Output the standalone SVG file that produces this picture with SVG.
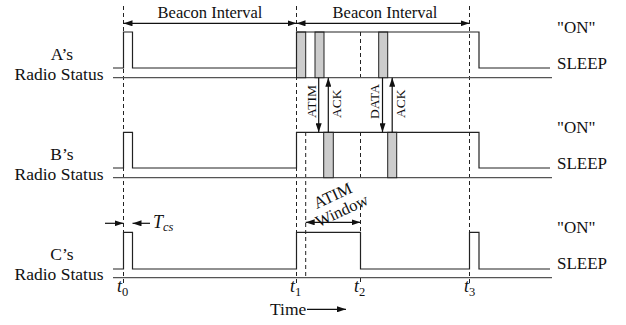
<svg xmlns="http://www.w3.org/2000/svg" width="626" height="325" viewBox="0 0 626 325">
<defs>
<marker id="ah" viewBox="0 0 9 6" markerWidth="9" markerHeight="6" refX="9" refY="3" orient="auto-start-reverse" markerUnits="userSpaceOnUse">
<path d="M0,0 L9,3 L0,6 z" fill="#111"/>
</marker>
<style>
.t{font-family:"Liberation Serif","Times New Roman",serif;font-size:17px;fill:#111}
.tr{font-family:"Liberation Serif","Times New Roman",serif;font-size:17.5px;fill:#111}
.tb{font-family:"Liberation Serif","Times New Roman",serif;font-size:16.5px;fill:#111}
.ts{font-family:"Liberation Serif","Times New Roman",serif;font-size:13.5px;fill:#111}
.m{font-family:"Liberation Serif","Times New Roman",serif;font-style:italic;font-size:18px;fill:#111}
.sub{font-size:12.5px}
.sig{fill:none;stroke:#222;stroke-width:1.2}
.base{fill:none;stroke:#555;stroke-width:1.3}
.dash{fill:none;stroke:#222;stroke-width:1;stroke-dasharray:4,3}
.blk{fill:#ccc;stroke:#222;stroke-width:1}
.arr{fill:none;stroke:#111;stroke-width:1.2}
</style>
</defs>
<rect width="626" height="325" fill="#fff"/>

<g id="gridlines">
<line class="dash" x1="123.5" y1="6" x2="123.5" y2="284"/>
<line class="dash" x1="296.5" y1="6" x2="296.5" y2="284"/>
<line class="dash" x1="469.5" y1="6" x2="469.5" y2="284"/>
<line class="dash" x1="360.5" y1="32" x2="360.5" y2="77"/>
<line class="dash" x1="360.5" y1="132" x2="360.5" y2="177"/>
<line class="dash" x1="360.5" y1="206" x2="360.5" y2="232"/>
<line class="dash" x1="360.5" y1="278" x2="360.5" y2="284"/>
<line class="dash" x1="305.7" y1="132" x2="305.7" y2="278"/>
</g>

<g id="rowA">
<line class="base" x1="113" y1="77.7" x2="552" y2="77.7"/>
<rect class="blk" x="296.5" y="32" width="9.2" height="45.7"/>
<rect class="blk" x="315" y="32" width="9" height="45.7"/>
<rect class="blk" x="378.7" y="32" width="9" height="45.7"/>
<path class="sig" d="M113,68 H123.5 V32 H132.5 V68 H296.5 V32 H479 V68 H550"/>
<text class="tr" x="62" y="59.5" text-anchor="middle">A’s</text>
<text class="tr" x="59" y="79.5" text-anchor="middle">Radio Status</text>
<text class="t" x="557" y="33">"ON"</text>
<text class="t" x="557" y="69">SLEEP</text>
</g>

<g id="rowB">
<line class="base" x1="113" y1="177.7" x2="552" y2="177.7"/>
<rect class="blk" x="323.7" y="132.3" width="9.6" height="45.4"/>
<rect class="blk" x="387.7" y="132.3" width="9" height="45.4"/>
<path class="sig" d="M113,168 H123.5 V132.3 H132.5 V168 H296.5 V132.3 H479 V168 H550"/>
<text class="tr" x="62" y="159.5" text-anchor="middle">B’s</text>
<text class="tr" x="59" y="179.5" text-anchor="middle">Radio Status</text>
<text class="t" x="557" y="133">"ON"</text>
<text class="t" x="557" y="169">SLEEP</text>
</g>

<g id="rowC">
<line class="base" x1="113" y1="277.7" x2="552" y2="277.7"/>
<path class="sig" d="M113,269 H123.5 V232.3 H132.5 V269 H296.5 V232.3 H360.5 V269 H469.5 V232.3 H479 V269 H550"/>
<text class="tr" x="62" y="259.5" text-anchor="middle">C’s</text>
<text class="tr" x="59" y="279.5" text-anchor="middle">Radio Status</text>
<text class="t" x="557" y="233">"ON"</text>
<text class="t" x="557" y="269">SLEEP</text>
</g>

<g id="connectors">
<line class="arr" x1="123.5" y1="23.3" x2="296.5" y2="23.3" marker-start="url(#ah)" marker-end="url(#ah)"/>
<line class="arr" x1="296.5" y1="23.3" x2="469.5" y2="23.3" marker-start="url(#ah)" marker-end="url(#ah)"/>
<line class="arr" x1="318.7" y1="77.7" x2="318.7" y2="132.3" marker-end="url(#ah)"/>
<line class="arr" x1="328.3" y1="132.3" x2="328.3" y2="77.7" marker-end="url(#ah)"/>
<line class="arr" x1="382.5" y1="77.7" x2="382.5" y2="132.3" marker-end="url(#ah)"/>
<line class="arr" x1="392.2" y1="132.3" x2="392.2" y2="77.7" marker-end="url(#ah)"/>
<line class="arr" x1="305.7" y1="222.3" x2="360.5" y2="222.3" marker-start="url(#ah)" marker-end="url(#ah)"/>
<line class="arr" x1="105" y1="223.3" x2="123.5" y2="223.3" marker-end="url(#ah)"/>
<line class="arr" x1="150" y1="223.3" x2="132.5" y2="223.3" marker-end="url(#ah)"/>
<line class="arr" x1="307" y1="309.3" x2="346" y2="309.3" marker-end="url(#ah)"/>
</g>

<g id="labels">
<text class="tb" x="210" y="18" text-anchor="middle">Beacon Interval</text>
<text class="tb" x="385" y="18" text-anchor="middle">Beacon Interval</text>
<text class="ts" transform="translate(315.5,118) rotate(-90)">ATIM</text>
<text class="ts" transform="translate(341,118) rotate(-90)">ACK</text>
<text class="ts" transform="translate(379,119) rotate(-90)">DATA</text>
<text class="ts" transform="translate(405,118) rotate(-90)">ACK</text>
<text class="tb" text-anchor="middle" transform="translate(333,196) rotate(-25)" y="5">ATIM</text>
<text class="tb" text-anchor="middle" transform="translate(342,211) rotate(-25)" y="5">Window</text>
<text class="m" x="153" y="228">T<tspan class="sub" dy="3">cs</tspan></text>
<text class="m" x="117" y="292">t<tspan class="sub" dy="4" font-style="normal">0</tspan></text>
<text class="m" x="290" y="292">t<tspan class="sub" dy="4" font-style="normal">1</tspan></text>
<text class="m" x="354" y="292">t<tspan class="sub" dy="4" font-style="normal">2</tspan></text>
<text class="m" x="464" y="292">t<tspan class="sub" dy="4" font-style="normal">3</tspan></text>
<text class="tr" x="270" y="315">Time</text>
</g>
</svg>
